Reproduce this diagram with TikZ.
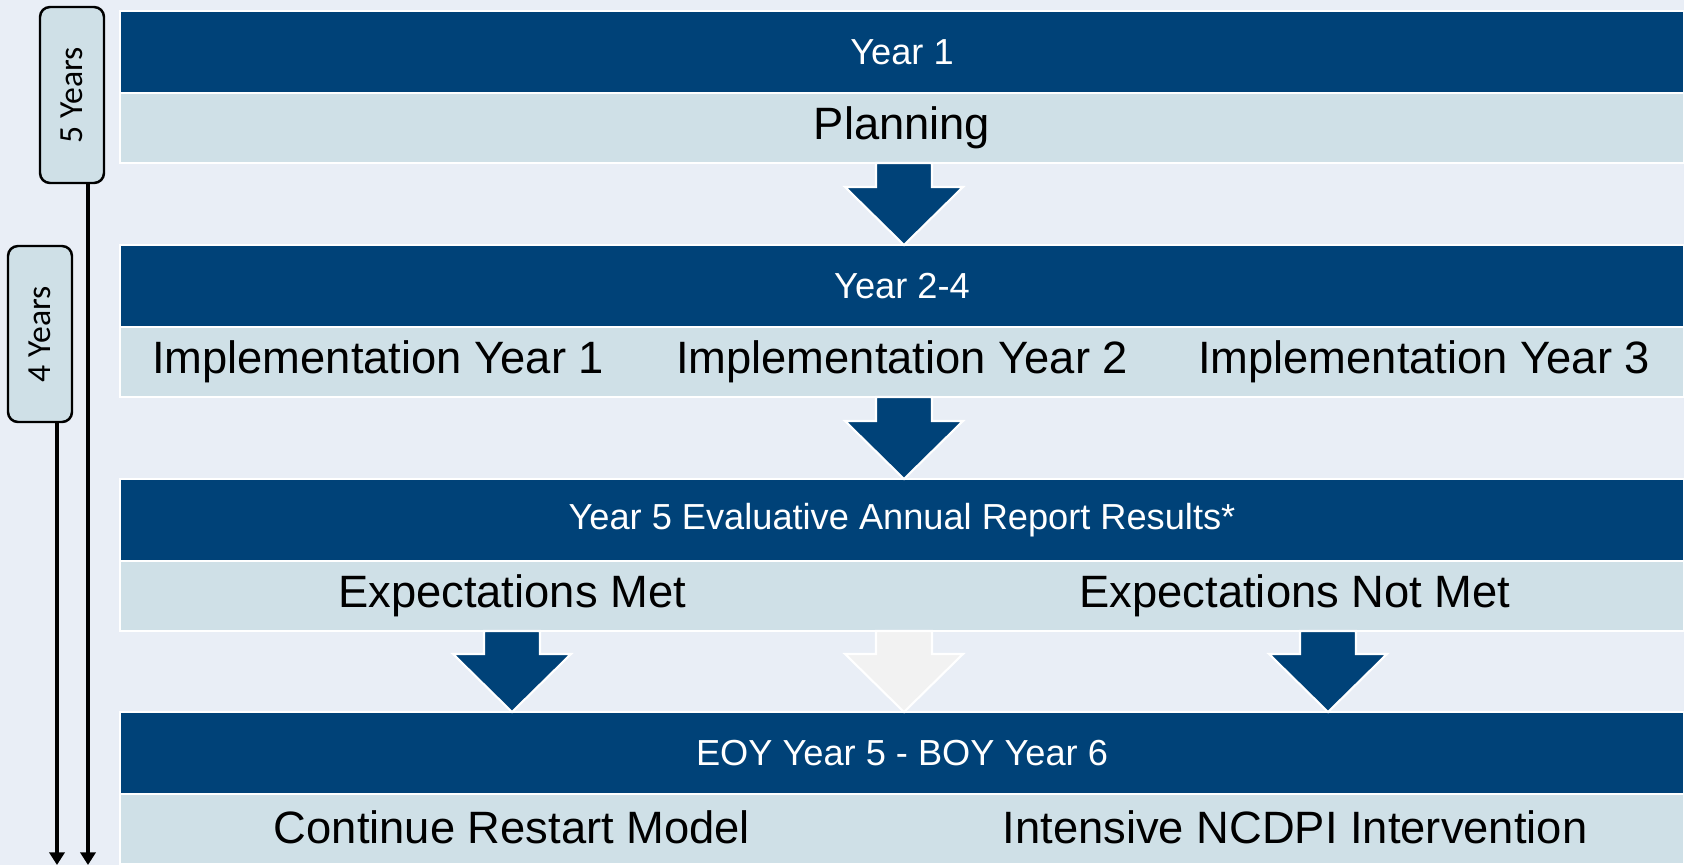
\documentclass[tikz,border=0pt]{standalone}
\usepackage{fontspec}
\setmainfont{Liberation Sans}
\newfontfamily\sidefont{Carlito}
\usepackage{graphicx}
\usepackage{tikz}
\usetikzlibrary{calc, arrows.meta}

\definecolor{bgblue}{RGB}{233,238,246}
\definecolor{bandnavy}{RGB}{0,66,120}
\definecolor{bandlight}{RGB}{207,224,231}
\definecolor{ghostgray}{RGB}{242,242,242}

\tikzset{
  headband/.style={rectangle, fill=bandnavy, draw=white, line width=0.6pt, text=white, minimum width=156.4mm, minimum height=8.2mm, outer sep=0pt, font=\fontsize{10.3}{12}\selectfont},
  bodyband/.style={rectangle, fill=bandlight, draw=white, line width=0.6pt, minimum width=156.4mm, minimum height=7mm, outer sep=0pt, font=\fontsize{12.9}{15}\selectfont},
  bodytext/.style={font=\fontsize{12.9}{15}\selectfont, inner sep=0pt},
  blockfill/.style={fill=bandnavy, draw=white, line width=0.6pt},
  ghostfill/.style={fill=ghostgray, draw=white, line width=0.6pt},
  yearbox/.style={rectangle, rounded corners=1mm, draw=black, line width=0.7pt, fill=bandlight, minimum width=6.4mm, minimum height=17.6mm, font=\sidefont\fontsize{9.6}{11}\selectfont},
  timeline/.style={line width=1pt, -{Triangle[width=4.3pt, length=3.6pt]}}
}

% block arrow from top coordinate #2 down to tip #3
\newcommand{\blockarr}[3][blockfill]{%
  \draw[#1] ($(#2)+(-28,0)$) -- ($(#2)+(28,0)$) -- ($(#3)+(28,-58)$) -- ($(#3)+(59,-58)$)
    -- (#3) -- ($(#3)+(-59,-58)$) -- ($(#3)+(-28,-58)$) -- cycle;}

\begin{document}
\begin{tikzpicture}[x=0.1mm, y=-0.1mm]
        \fill[bgblue] (0,0) rectangle (1684,865);
        \useasboundingbox (0,0) rectangle (1684,865);

        % Bands
        \node[headband] (y1) at (902,52) {Year 1};
        \node[bodyband] (p1) at (902,128) {Planning};

        \node[headband] (y2) at (902,286) {Year 2-4};
        \node[bodyband] (p2) at (902,362) {};
        \node[bodytext] (imp1) at (378,362) {Implementation Year 1};
        \node[bodytext] (imp2) at (902,362) {Implementation Year 2};
        \node[bodytext] (imp3) at (1424,362) {Implementation Year 3};

        \node[headband] (y3) at (902,520) {Year 5 Evaluative Annual Report Results*};
        \node[bodyband] (p3) at (902,596) {};
        \node[bodytext] (met) at (512,596) {Expectations Met};
        \node[bodytext] (notmet) at (1295,596) {Expectations Not Met};

        \node[headband] (y4) at (902,753) {EOY Year 5 - BOY Year 6};
        \node[bodyband] (p4) at (902,829) {};
        \node[bodytext] (cont) at (512,827) {Continue Restart Model};
        \node[bodytext] (inter) at (1295,827) {Intensive NCDPI Intervention};

        % Block arrows
        \coordinate (a1t) at ($(p1.south)+(2,0)$);
        \coordinate (a1b) at ($(y2.north)+(2,0)$);
        \coordinate (a2t) at ($(p2.south)+(2,0)$);
        \coordinate (a2b) at ($(y3.north)+(2,0)$);
        \coordinate (a3t) at ($(p3.south)+(-390,0)$);
        \coordinate (a3b) at ($(y4.north)+(-390,0)$);
        \coordinate (a4t) at ($(p3.south)+(2,0)$);
        \coordinate (a4b) at ($(y4.north)+(2,0)$);
        \coordinate (a5t) at ($(p3.south)+(426,0)$);
        \coordinate (a5b) at ($(y4.north)+(426,0)$);
        \blockarr{a1t}{a1b}
        \blockarr{a2t}{a2b}
        \blockarr{a3t}{a3b}
        \blockarr[ghostfill]{a4t}{a4b}
        \blockarr{a5t}{a5b}

        % Time spans
        \node[yearbox] (five) at (72,95) {\rotatebox{90}{5 Years}};
        \node[yearbox] (four) at (40,334) {\rotatebox{90}{4 Years}};
        \coordinate (fiveend) at (88,865);
        \coordinate (fourend) at (57,865);
        \draw[timeline] (five.south -| fiveend) -- (fiveend);
        \draw[timeline] (four.south -| fourend) -- (fourend);

    \end{tikzpicture}
\end{document}
